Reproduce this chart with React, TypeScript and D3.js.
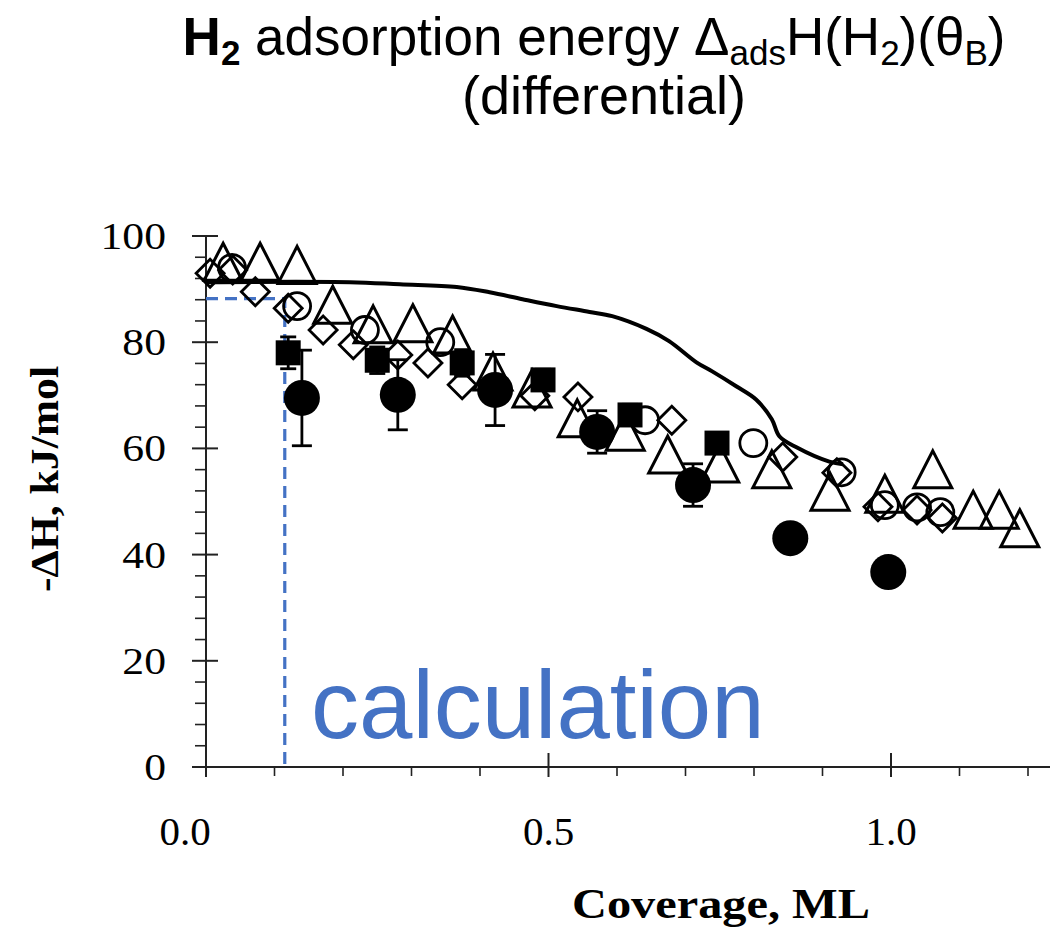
import React from "react";
import * as d3 from "d3";

// ---- data (coverage ML, -ΔH kJ/mol) ----
const triX = [0.025, 0.079, 0.133, 0.185, 0.244, 0.302, 0.36, 0.419, 0.476, 0.542, 0.612, 0.674, 0.75, 0.826, 0.911, 0.991, 1.061, 1.12, 1.158, 1.188];
const triY = [94.5, 94.5, 93.9, 86.4, 82.7, 82.9, 80.8, 73.8, 70.6, 65.0, 62.5, 58.2, 56.5, 55.4, 51.2, 50.8, 55.4, 47.8, 47.8, 44.3];

const circX = [0.038, 0.133, 0.232, 0.342, 0.641, 0.799, 0.928, 0.991, 1.038, 1.072];
const circY = [94.0, 86.8, 82.3, 80.0, 65.3, 61.0, 55.5, 49.3, 48.9, 48.0];

const diaX = [0.006, 0.039, 0.072, 0.12, 0.171, 0.215, 0.28, 0.324, 0.374, 0.48, 0.543, 0.68, 0.842, 0.921, 0.981, 1.038, 1.075];
const diaY = [93.0, 93.6, 89.5, 86.4, 82.3, 79.5, 77.6, 76.1, 72.0, 69.9, 69.7, 65.3, 58.4, 55.4, 49.0, 48.4, 46.9];

const sqX = [0.12, 0.25, 0.374, 0.492, 0.619, 0.746];
const sqY = [78.0, 76.6, 76.1, 72.9, 66.3, 61.0];
const sqErr = [3, 2.5, 2.5, 2, 2, 1.5];

const dotX = [0.14, 0.28, 0.422, 0.571, 0.711, 0.853, 0.996];
const dotY = [69.5, 70.1, 71.0, 63.1, 53.1, 43.1, 36.7];
const dotErr = [9, 6.6, 6.7, 4, 4, 0, 0];

const lineX = [0, 0.21, 0.283, 0.366, 0.414, 0.462, 0.512, 0.56, 0.593, 0.643, 0.676, 0.716, 0.739, 0.774, 0.803, 0.826, 0.837, 0.862, 0.91, 0.93];
const lineY = [91.3, 91.3, 90.9, 90.4, 89.4, 88.1, 86.8, 85.7, 84.9, 82.5, 80.2, 76.2, 74.5, 71.7, 69.2, 65.5, 62.3, 60.2, 57.5, 57.0];

const calcX = 0.115;
const calcY = 88.2;

const xMajor = [0, 0.5, 1.0];
const xMajorLabels = ["0.0", "0.5", "1.0"];
const yMajor = [0, 20, 40, 60, 80, 100];

export default function App() {
  const W = 1050, H = 929;
  const x = d3.scaleLinear().domain([0, 1]).range([206, 891]);
  const y = d3.scaleLinear().domain([0, 100]).range([767, 236]);
  const xMinor = d3.range(0, 1.23, 0.1).filter((v) => Math.abs(v - Math.round(v * 2) / 2) > 1e-6);
  const yMinor = d3.range(0, 100.1, 4).filter((v) => v % 20 !== 0);

  const line = d3.line<number>().x((_, i) => x(lineX[i])).y((_, i) => y(lineY[i])).curve(d3.curveCatmullRom);
  const serif = "'Liberation Serif', 'Times New Roman', serif";
  const sans = "'Liberation Sans', Arial, sans-serif";
  const blue = "#4472C4";
  const sub = 35;

  return (
    <svg width={W} height={H} style={{ position: "absolute", left: 0, top: 0, background: "#fff" }}>
      {/* Title */}
      <text x={594} y={55} textAnchor="middle" fontFamily={sans} fontSize={53} fill="#000">
        <tspan fontWeight="bold">H</tspan>
        <tspan fontWeight="bold" fontSize={sub} dy={10}>2</tspan>
        <tspan dy={-10}> adsorption energy Δ</tspan>
        <tspan fontSize={sub} dy={10}>ads</tspan>
        <tspan dy={-10}>H(H</tspan>
        <tspan fontSize={sub} dy={10}>2</tspan>
        <tspan dy={-10}>)(θ</tspan>
        <tspan fontSize={sub} dy={10}>B</tspan>
        <tspan dy={-10}>)</tspan>
      </text>
      <text x={604} y={114} textAnchor="middle" fontFamily={sans} fontSize={54} fill="#000">(differential)</text>

      {/* axes */}
      <line x1={x(0)} x2={x(0)} y1={y(100)} y2={y(0)} stroke="#222" strokeWidth={2} />
      <line x1={196} x2={W} y1={y(0)} y2={y(0)} stroke="#222" strokeWidth={2} />
      {yMajor.map((v) => (
        <g key={"ym" + v}>
          <line x1={x(0) - 14} x2={x(0) + 12} y1={y(v)} y2={y(v)} stroke="#222" strokeWidth={2} />
          <text x={166} y={y(v) + 13} textAnchor="end" fontFamily={serif} fontSize={39}
            transform={`translate(166,0) scale(1.12,1) translate(-166,0)`}>{v}</text>
        </g>
      ))}
      {yMinor.map((v) => (
        <line key={"yn" + v} x1={x(0) - 11} x2={x(0)} y1={y(v)} y2={y(v)} stroke="#222" strokeWidth={1.6} />
      ))}
      {xMajor.map((v, i) => (
        <g key={"xm" + v}>
          <line x1={x(v)} x2={x(v)} y1={y(0) - 14} y2={y(0) + 10} stroke="#222" strokeWidth={2} />
          <text x={x(v) + (i === 0 ? -21 : 0)} y={845} textAnchor="middle" fontFamily={serif} fontSize={41}>{xMajorLabels[i]}</text>
        </g>
      ))}
      {xMinor.map((v) => (
        <line key={"xn" + v} x1={x(v)} x2={x(v)} y1={y(0)} y2={y(0) + 9} stroke="#222" strokeWidth={1.6} />
      ))}

      {/* axis titles */}
      <text x={721} y={918} textAnchor="middle" fontFamily={serif} fontWeight="bold" fontSize={42}
        textLength={298} lengthAdjust="spacingAndGlyphs">Coverage, ML</text>
      <text transform="translate(58,479) rotate(-90)" textAnchor="middle" fontFamily={serif} fontWeight="bold" fontSize={40}
        textLength={226} lengthAdjust="spacingAndGlyphs">-ΔH, kJ/mol</text>

      {/* calculation guide */}
      <path d={`M${x(0)},${y(calcY)} H${x(calcX)} V${y(0)}`} fill="none" stroke={blue} strokeWidth={3.2} strokeDasharray="12,7" />
      <text x={311} y={738} fontFamily={sans} fontSize={96} fill={blue}>calculation</text>

      {/* solid line */}
      <path d={line(lineX) || ""} fill="none" stroke="#000" strokeWidth={4} strokeLinejoin="round" />

      {/* triangles */}
      {triX.map((v, i) => {
        const cx = x(v), cy = y(triY[i]);
        return <path key={"t" + i} d={`M${cx},${cy - 22} L${cx + 19},${cy + 15} L${cx - 19},${cy + 15} Z`} fill="none" stroke="#000" strokeWidth={3} strokeLinejoin="miter" />;
      })}
      {/* diamonds */}
      {diaX.map((v, i) => {
        const cx = x(v), cy = y(diaY[i]);
        return <path key={"d" + i} d={`M${cx},${cy - 14} L${cx + 14},${cy} L${cx},${cy + 14} L${cx - 14},${cy} Z`} fill="none" stroke="#000" strokeWidth={2.8} />;
      })}
      {/* open circles */}
      {circX.map((v, i) => (
        <circle key={"c" + i} cx={x(v)} cy={y(circY[i])} r={13.5} fill="none" stroke="#000" strokeWidth={2.8} />
      ))}
      {/* filled squares with error bars */}
      {sqX.map((v, i) => {
        const cx = x(v), cy = y(sqY[i]);
        const lo = y(sqY[i] - sqErr[i]), hi = y(sqY[i] + sqErr[i]);
        return (
          <g key={"s" + i}>
            <line x1={cx} x2={cx} y1={hi} y2={lo} stroke="#000" strokeWidth={2.8} />
            <line x1={cx - 8} x2={cx + 8} y1={hi} y2={hi} stroke="#000" strokeWidth={2.8} />
            <line x1={cx - 8} x2={cx + 8} y1={lo} y2={lo} stroke="#000" strokeWidth={2.8} />
            <rect x={cx - 12.5} y={cy - 12.5} width={25} height={25} fill="#000" />
          </g>
        );
      })}
      {/* filled circles with error bars */}
      {dotX.map((v, i) => {
        const cx = x(v), cy = y(dotY[i]);
        const lo = y(dotY[i] - dotErr[i]), hi = y(dotY[i] + dotErr[i]);
        return (
          <g key={"f" + i}>
            {dotErr[i] > 0 && (
              <>
                <line x1={cx} x2={cx} y1={hi} y2={lo} stroke="#000" strokeWidth={2.8} />
                <line x1={cx - 10} x2={cx + 10} y1={hi} y2={hi} stroke="#000" strokeWidth={2.8} />
                <line x1={cx - 10} x2={cx + 10} y1={lo} y2={lo} stroke="#000" strokeWidth={2.8} />
              </>
            )}
            <circle cx={cx} cy={cy} r={18} fill="#000" />
          </g>
        );
      })}
    </svg>
  );
}
